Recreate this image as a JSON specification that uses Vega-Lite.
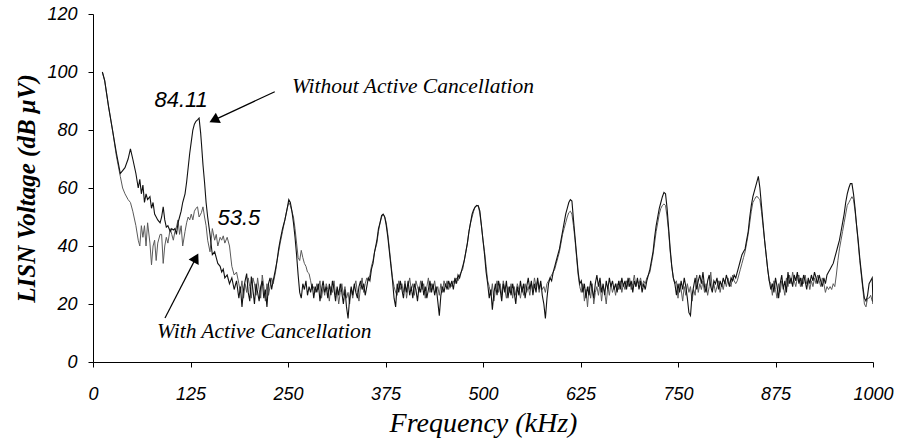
{
  "$schema": "https://vega.github.io/schema/vega-lite/v6.json",
  "width": 780,
  "height": 348,
  "autosize": {"type": "none"},
  "padding": {"left": 93, "top": 14, "right": 27, "bottom": 83},
  "background": "white",
  "config": {"view": {"stroke": null}, "axis": {"grid": false, "domainColor": "black", "tickColor": "black", "labelColor": "black", "titleColor": "black"}},
  "datasets": {
    "spec": [
      {"f":12,"w":100,"c":100},{"f":15,"w":97,"c":97},{"f":20,"w":88,"c":88},{"f":25,"w":80,"c":80},{"f":30,"w":72,"c":71},{"f":35,"w":65,"c":64},{"f":38,"w":66,"c":60},{"f":41,"w":67,"c":58},{"f":45,"w":70,"c":56},{"f":48,"w":73.5,"c":55},{"f":51,"w":70,"c":52},{"f":55,"w":65,"c":47},{"f":58,"w":60,"c":42},{"f":60,"w":63,"c":40},{"f":62,"w":58,"c":47},{"f":64,"w":61,"c":43},{"f":66,"w":55,"c":47},{"f":68,"w":58,"c":40},{"f":70,"w":56,"c":48},{"f":73,"w":57,"c":41},{"f":75,"w":53,"c":33.5},{"f":77,"w":55,"c":40},{"f":79,"w":51,"c":42},{"f":81,"w":50,"c":35},{"f":83,"w":49,"c":41},{"f":86,"w":48,"c":44},{"f":88,"w":50,"c":44},{"f":90,"w":53.5,"c":34},{"f":92,"w":49,"c":40},{"f":94,"w":46.5,"c":43},{"f":96,"w":47,"c":41},{"f":99,"w":45,"c":46},{"f":101,"w":46,"c":44},{"f":103,"w":45.5,"c":42},{"f":105,"w":46,"c":45},{"f":107,"w":44,"c":46.5},{"f":109,"w":48,"c":49},{"f":111,"w":50,"c":44},{"f":113,"w":52,"c":47},{"f":115,"w":55,"c":40},{"f":118,"w":58,"c":45},{"f":120,"w":62,"c":48},{"f":122,"w":67,"c":50},{"f":124,"w":72,"c":49},{"f":126,"w":76,"c":51},{"f":128,"w":80,"c":49},{"f":130,"w":82,"c":52},{"f":132,"w":83,"c":53},{"f":134,"w":83.5,"c":53.5},{"f":136,"w":84.1,"c":50},{"f":138,"w":79,"c":51},{"f":139,"w":75.5,"c":51.5},{"f":141,"w":68,"c":53.5},{"f":143,"w":62,"c":50},{"f":145,"w":55,"c":47},{"f":147,"w":50,"c":42},{"f":150,"w":44,"c":38},
      {"f":153,"w":37,"c":46},{"f":156,"w":38,"c":42},{"f":158,"w":36,"c":44},{"f":160,"w":34,"c":40},{"f":163,"w":33,"c":43},{"f":165,"w":31,"c":42},{"f":167,"w":32,"c":43.5},{"f":169,"w":29,"c":41},{"f":172,"w":30,"c":43},{"f":175,"w":27,"c":40},{"f":178,"w":29,"c":33},{"f":181,"w":25,"c":30},{"f":184,"w":28,"c":31},{"f":187,"w":22,"c":27},{"f":189,"w":26,"c":24},{"f":191,"w":19,"c":28},{"f":193,"w":25,"c":22},{"f":195,"w":28,"c":27},{"f":197,"w":30.5,"c":24},{"f":199,"w":24,"c":29},{"f":201,"w":21,"c":26},{"f":203,"w":29.5,"c":22},{"f":205,"w":25,"c":29},{"f":207,"w":20,"c":27},{"f":209,"w":27,"c":23},{"f":211,"w":24,"c":29},{"f":213,"w":21,"c":25},{"f":215,"w":26,"c":22},{"f":217,"w":28,"c":30},{"f":219,"w":22,"c":26},{"f":221,"w":25,"c":21},{"f":223,"w":19,"c":27},{"f":225,"w":27,"c":23},{"f":227,"w":29,"c":26},{"f":229,"w":25,"c":29},{"f":231,"w":28,"c":27},{"f":234,"w":32,"c":31},{"f":236,"w":35,"c":35},{"f":238,"w":39,"c":38},{"f":240,"w":42,"c":41},{"f":243,"w":46,"c":45},{"f":246,"w":49,"c":49},{"f":249,"w":53,"c":53},{"f":251,"w":56,"c":55},{"f":253,"w":55,"c":54},{"f":255,"w":52,"c":52},{"f":257,"w":48,"c":50},{"f":259,"w":43,"c":46},{"f":261,"w":37,"c":41},{"f":263,"w":30,"c":36},{"f":265,"w":24,"c":35},{"f":267,"w":22,"c":38.5},{"f":269,"w":27,"c":36},{"f":271,"w":25,"c":34},{"f":273,"w":28,"c":33},{"f":275,"w":23,"c":31},{"f":277,"w":26,"c":30.5},{"f":279,"w":24,"c":28},{"f":281,"w":27,"c":25},
      {"f":283,"w":22,"c":26},{"f":285,"w":26,"c":24},{"f":287,"w":24,"c":27},{"f":289,"w":27,"c":25},{"f":291,"w":21,"c":28},{"f":293,"w":25,"c":22},{"f":295,"w":28,"c":26},{"f":297,"w":24,"c":23},{"f":299,"w":26,"c":27},{"f":301,"w":22,"c":25},{"f":303,"w":27,"c":21},{"f":305,"w":23,"c":26},{"f":307,"w":28,"c":24},{"f":309,"w":25,"c":28},{"f":311,"w":21,"c":23},{"f":313,"w":26,"c":25},{"f":315,"w":23,"c":20},{"f":317,"w":27,"c":24},{"f":319,"w":24,"c":27},{"f":321,"w":20,"c":23},{"f":323,"w":25,"c":26},{"f":325,"w":19,"c":22},{"f":327,"w":15,"c":24},{"f":329,"w":22,"c":20},{"f":331,"w":26,"c":25},{"f":333,"w":23,"c":22},{"f":335,"w":27,"c":26},{"f":337,"w":24,"c":28},{"f":339,"w":22,"c":24},{"f":341,"w":26,"c":21},{"f":343,"w":28,"c":26},{"f":345,"w":25,"c":29},{"f":347,"w":27,"c":24},{"f":349,"w":23,"c":27},{"f":351,"w":26,"c":29},{"f":353,"w":29,"c":28},{"f":355,"w":28,"c":30},{"f":357,"w":32,"c":33},{"f":359,"w":34,"c":35},{"f":361,"w":38,"c":38},{"f":364,"w":42,"c":41},{"f":366,"w":46,"c":45},{"f":368,"w":48,"c":48},{"f":370,"w":50.5,"c":50},{"f":372,"w":51,"c":51},{"f":374,"w":50,"c":50},{"f":376,"w":47,"c":48},{"f":378,"w":43,"c":44},{"f":380,"w":38,"c":39},{"f":382,"w":33,"c":34},{"f":384,"w":28,"c":29},{"f":386,"w":22,"c":26},{"f":388,"w":19,"c":24},{"f":390,"w":27,"c":23},
      {"f":392,"w":24,"c":28},{"f":394,"w":28,"c":25},{"f":396,"w":25,"c":27},{"f":398,"w":22,"c":24},{"f":400,"w":27,"c":28},{"f":402,"w":24,"c":22},{"f":404,"w":28,"c":26},{"f":406,"w":23,"c":29},{"f":408,"w":26,"c":25},{"f":410,"w":22,"c":27},{"f":412,"w":27,"c":23},{"f":414,"w":25,"c":28},{"f":416,"w":21,"c":26},{"f":418,"w":26,"c":24},{"f":420,"w":24,"c":28},{"f":422,"w":28,"c":25},{"f":424,"w":23,"c":27},{"f":426,"w":26,"c":22},{"f":428,"w":22,"c":26},{"f":430,"w":25,"c":29},{"f":432,"w":28,"c":24},{"f":434,"w":24,"c":27},{"f":436,"w":27,"c":25},{"f":438,"w":23,"c":28},{"f":440,"w":26,"c":24},{"f":442,"w":21,"c":26},{"f":444,"w":16,"c":23},{"f":446,"w":23,"c":27},{"f":448,"w":26,"c":24},{"f":450,"w":24,"c":28},{"f":452,"w":27,"c":26},{"f":454,"w":25,"c":28},{"f":456,"w":28,"c":25},{"f":458,"w":26,"c":27},{"f":460,"w":28,"c":26},{"f":462,"w":25,"c":28},{"f":464,"w":29,"c":27},{"f":466,"w":27,"c":29},{"f":468,"w":30,"c":28},{"f":470,"w":29,"c":30},{"f":472,"w":31,"c":31},{"f":474,"w":33,"c":32},{"f":476,"w":35,"c":35},{"f":478,"w":38,"c":38},{"f":480,"w":41,"c":41},{"f":482,"w":45,"c":45},{"f":484,"w":48,"c":48},{"f":486,"w":51,"c":50},{"f":488,"w":52.5,"c":52},{"f":490,"w":53.5,"c":53.5},{"f":492,"w":54,"c":53.8},{"f":494,"w":53.8,"c":54},{"f":496,"w":52,"c":51},{"f":498,"w":47,"c":47},{"f":500,"w":42,"c":42},{"f":502,"w":37,"c":38},{"f":504,"w":31,"c":33},{"f":506,"w":27,"c":28},{"f":508,"w":22,"c":26},{"f":510,"w":25,"c":23},{"f":512,"w":18,"c":27},{"f":514,"w":24,"c":21},
      {"f":516,"w":27,"c":25},{"f":518,"w":23,"c":28},{"f":520,"w":28,"c":24},{"f":522,"w":25,"c":27},{"f":524,"w":21,"c":23},{"f":526,"w":27,"c":28},{"f":528,"w":24,"c":25},{"f":530,"w":28,"c":22},{"f":532,"w":22,"c":26},{"f":534,"w":26,"c":24},{"f":536,"w":23,"c":27},{"f":538,"w":27,"c":22},{"f":540,"w":24,"c":26},{"f":542,"w":20,"c":23},{"f":544,"w":26,"c":27},{"f":546,"w":23,"c":25},{"f":548,"w":28,"c":22},{"f":550,"w":24,"c":26},{"f":552,"w":27,"c":23},{"f":554,"w":22,"c":27},{"f":556,"w":26,"c":24},{"f":558,"w":29,"c":26},{"f":560,"w":25,"c":23},{"f":562,"w":28,"c":27},{"f":564,"w":23,"c":25},{"f":566,"w":27,"c":29},{"f":568,"w":24,"c":26},{"f":570,"w":29,"c":28},{"f":572,"w":25,"c":24},{"f":574,"w":28,"c":27},{"f":576,"w":23,"c":25},{"f":578,"w":20,"c":26},{"f":580,"w":15,"c":24},{"f":582,"w":22,"c":27},{"f":584,"w":27,"c":28},{"f":586,"w":29,"c":29},{"f":588,"w":28,"c":30},{"f":590,"w":31,"c":31},{"f":592,"w":33,"c":32},{"f":594,"w":35,"c":34},{"f":596,"w":37,"c":36},{"f":598,"w":39,"c":38},{"f":600,"w":42,"c":41},{"f":602,"w":45,"c":44},{"f":604,"w":48,"c":46},{"f":606,"w":51,"c":48},{"f":608,"w":53,"c":50},{"f":610,"w":55,"c":51.5},{"f":612,"w":56,"c":52},{"f":614,"w":55.5,"c":51},{"f":616,"w":49,"c":47},{"f":618,"w":43,"c":42},{"f":620,"w":37,"c":36},{"f":622,"w":31,"c":30},{"f":624,"w":27,"c":26},{"f":626,"w":28,"c":24},
      {"f":628,"w":24,"c":27},{"f":630,"w":27,"c":21},{"f":632,"w":22,"c":25},{"f":634,"w":26,"c":19},{"f":636,"w":23,"c":26},{"f":638,"w":28,"c":22},{"f":640,"w":25,"c":27},{"f":642,"w":22,"c":20},{"f":644,"w":27,"c":24},{"f":646,"w":30,"c":26},{"f":648,"w":26,"c":23},{"f":650,"w":29,"c":27},{"f":652,"w":24,"c":21},{"f":654,"w":27,"c":26},{"f":656,"w":23,"c":24},{"f":658,"w":28,"c":20},{"f":660,"w":25,"c":26},{"f":662,"w":29,"c":23},{"f":664,"w":26,"c":27},{"f":666,"w":28,"c":24},{"f":668,"w":25,"c":26},{"f":670,"w":27,"c":23},{"f":672,"w":24,"c":27},{"f":674,"w":28,"c":25},{"f":676,"w":25,"c":28},{"f":678,"w":29,"c":24},{"f":680,"w":26,"c":27},{"f":682,"w":28,"c":25},{"f":684,"w":25,"c":28},{"f":686,"w":29,"c":26},{"f":688,"w":26,"c":29},{"f":690,"w":28,"c":25},{"f":692,"w":24,"c":27},{"f":694,"w":28,"c":30},{"f":696,"w":26,"c":26},{"f":698,"w":29,"c":28},{"f":700,"w":25,"c":27},{"f":702,"w":28,"c":29},{"f":704,"w":24,"c":26},{"f":706,"w":27,"c":28},{"f":708,"w":25,"c":27},{"f":710,"w":28,"c":29},{"f":712,"w":30,"c":30},{"f":714,"w":32,"c":31},{"f":716,"w":35,"c":34},{"f":718,"w":38,"c":37},{"f":720,"w":43,"c":41},{"f":722,"w":47,"c":45},{"f":724,"w":50,"c":48},{"f":726,"w":53,"c":51},{"f":728,"w":55,"c":53},{"f":730,"w":57,"c":54},{"f":732,"w":58.5,"c":54.5},{"f":734,"w":58,"c":54},{"f":736,"w":53,"c":50},{"f":738,"w":46,"c":45},{"f":740,"w":39,"c":38},{"f":742,"w":33,"c":33},{"f":744,"w":29,"c":29},{"f":746,"w":27,"c":27},{"f":748,"w":23,"c":28},
      {"f":750,"w":27,"c":22},{"f":752,"w":24,"c":27},{"f":754,"w":28,"c":25},{"f":756,"w":25,"c":21},{"f":758,"w":29,"c":26},{"f":760,"w":26,"c":23},{"f":762,"w":22,"c":27},{"f":764,"w":17,"c":24},{"f":766,"w":16,"c":26},{"f":768,"w":23,"c":21},{"f":770,"w":26,"c":25},{"f":772,"w":29,"c":23},{"f":774,"w":25,"c":30},{"f":776,"w":28,"c":24},{"f":778,"w":30,"c":27},{"f":780,"w":27,"c":25},{"f":782,"w":31,"c":28},{"f":784,"w":26,"c":24},{"f":786,"w":24,"c":27},{"f":788,"w":28,"c":23},{"f":790,"w":30,"c":26},{"f":792,"w":26,"c":31},{"f":794,"w":24,"c":25},{"f":796,"w":28,"c":27},{"f":798,"w":27,"c":24},{"f":800,"w":29,"c":26},{"f":802,"w":25,"c":28},{"f":804,"w":28,"c":24},{"f":806,"w":26,"c":27},{"f":808,"w":29,"c":25},{"f":810,"w":27,"c":28},{"f":812,"w":30,"c":26},{"f":814,"w":28,"c":29},{"f":816,"w":26,"c":27},{"f":818,"w":29,"c":26},{"f":820,"w":28,"c":30},{"f":822,"w":30,"c":28},{"f":824,"w":29,"c":27},{"f":826,"w":31,"c":28},{"f":828,"w":33,"c":30},{"f":830,"w":35,"c":32},{"f":832,"w":37,"c":34},{"f":834,"w":38,"c":36},{"f":836,"w":39,"c":38},{"f":838,"w":42,"c":41},{"f":840,"w":45,"c":44},{"f":842,"w":50,"c":48},{"f":844,"w":54,"c":52},{"f":846,"w":57,"c":55},{"f":848,"w":59,"c":56},{"f":850,"w":61,"c":57},{"f":852,"w":63,"c":57},{"f":853,"w":64,"c":56.5},{"f":855,"w":60,"c":56},{"f":857,"w":54,"c":52},{"f":859,"w":48,"c":47},{"f":861,"w":42,"c":42},{"f":863,"w":37,"c":37},{"f":865,"w":32,"c":32},{"f":867,"w":28,"c":28},{"f":869,"w":25,"c":27},
      {"f":871,"w":27,"c":23},{"f":873,"w":24,"c":28},{"f":875,"w":29,"c":25},{"f":877,"w":26,"c":22},{"f":879,"w":22,"c":27},{"f":881,"w":27,"c":24},{"f":883,"w":30,"c":28},{"f":885,"w":25,"c":26},{"f":887,"w":28,"c":23},{"f":889,"w":24,"c":29},{"f":891,"w":31,"c":26},{"f":893,"w":27,"c":30},{"f":895,"w":29,"c":27},{"f":897,"w":26,"c":31},{"f":899,"w":30,"c":28},{"f":901,"w":28,"c":26},{"f":903,"w":31,"c":29},{"f":905,"w":27,"c":30},{"f":907,"w":29,"c":26},{"f":909,"w":26,"c":29},{"f":911,"w":30,"c":27},{"f":913,"w":28,"c":30},{"f":915,"w":25,"c":27},{"f":917,"w":29,"c":28},{"f":919,"w":27,"c":25},{"f":921,"w":30,"c":28},{"f":923,"w":28,"c":26},{"f":925,"w":31,"c":29},{"f":927,"w":29,"c":27},{"f":929,"w":27,"c":30},{"f":931,"w":30,"c":28},{"f":933,"w":28,"c":26},{"f":935,"w":26,"c":29},{"f":937,"w":29,"c":27},{"f":939,"w":27,"c":24},{"f":941,"w":30,"c":26},{"f":943,"w":31,"c":25},{"f":945,"w":32,"c":26},{"f":947,"w":33,"c":25},{"f":949,"w":34,"c":27},{"f":951,"w":36,"c":26},{"f":953,"w":38,"c":30},{"f":955,"w":40,"c":35},{"f":957,"w":42,"c":39},{"f":959,"w":45,"c":42},{"f":961,"w":48,"c":45},{"f":963,"w":51,"c":48},{"f":965,"w":55,"c":51},{"f":967,"w":58,"c":54},{"f":969,"w":60,"c":55},{"f":971,"w":61.5,"c":56},{"f":973,"w":61.5,"c":57},{"f":975,"w":58,"c":56},{"f":977,"w":53,"c":52},{"f":979,"w":47,"c":47},{"f":981,"w":42,"c":41},{"f":983,"w":36,"c":35},{"f":985,"w":31,"c":30},{"f":987,"w":26,"c":25},{"f":989,"w":22,"c":20},{"f":991,"w":21,"c":19},{"f":993,"w":23,"c":22},{"f":995,"w":27,"c":22},{"f":997,"w":28,"c":23},{"f":999,"w":29,"c":21},{"f":1000,"w":20,"c":21}
    ],
    "numlabels": [
      {"f":113,"v":87.9,"t":"84.11"},
      {"f":187,"v":47.2,"t":"53.5"}
    ],
    "notes": [
      {"f":255,"v":92.8,"t":"Without Active Cancellation"},
      {"f":82,"v":8.3,"t":"With Active Cancellation"}
    ],
    "arrows": [
      {"f":233,"v":93.2,"f2":155,"v2":83.4,"a":244},
      {"f":92.3,"v":15.2,"f2":132,"v2":35.9,"a":28}
    ]
  },
  "layer": [
    {
      "data": {"name": "spec"},
      "mark": {"type": "line", "color": "#5a5a5a", "strokeWidth": 1, "clip": true},
      "encoding": {
        "x": {"field": "f", "type": "quantitative", "scale": {"domain": [0, 1000], "nice": false},
          "axis": {"values": [0,125,250,375,500,625,750,875,1000], "format": "d", "tickSize": 5, "labelFont": "Liberation Sans", "labelFontStyle": "italic", "labelFontSize": 18, "labelPadding": 18, "labelFlush": false,
            "title": "Frequency (kHz)", "titleFont": "Liberation Serif", "titleFontStyle": "italic", "titleFontWeight": "normal", "titleFontSize": 28, "titlePadding": 6}},
        "y": {"field": "c", "type": "quantitative", "scale": {"domain": [0, 120], "nice": false},
          "axis": {"values": [0,20,40,60,80,100,120], "tickSize": 5, "labelFont": "Liberation Sans", "labelFontStyle": "italic", "labelFontSize": 18, "labelPadding": 11,
            "title": "LISN Voltage (dB μV)", "titleFont": "Liberation Serif", "titleFontStyle": "italic", "titleFontWeight": "bold", "titleFontSize": 25, "titlePadding": 7}}
      }
    },
    {
      "data": {"name": "spec"},
      "mark": {"type": "line", "color": "#111111", "strokeWidth": 1.1, "clip": true},
      "encoding": {
        "x": {"field": "f", "type": "quantitative"},
        "y": {"field": "w", "type": "quantitative"}
      }
    },
    {
      "data": {"name": "arrows"},
      "mark": {"type": "rule", "color": "black", "strokeWidth": 1.2},
      "encoding": {
        "x": {"field": "f", "type": "quantitative"},
        "y": {"field": "v", "type": "quantitative"},
        "x2": {"field": "f2"},
        "y2": {"field": "v2"}
      }
    },
    {
      "data": {"name": "arrows"},
      "mark": {"type": "point", "shape": "triangle-up", "filled": true, "color": "black", "size": 130, "opacity": 1},
      "encoding": {
        "x": {"field": "f2", "type": "quantitative"},
        "y": {"field": "v2", "type": "quantitative"},
        "angle": {"field": "a", "type": "quantitative", "scale": null}
      }
    },
    {
      "data": {"name": "numlabels"},
      "mark": {"type": "text", "font": "Liberation Sans", "fontSize": 22, "fontStyle": "italic", "baseline": "alphabetic", "align": "center", "color": "black"},
      "encoding": {
        "x": {"field": "f", "type": "quantitative"},
        "y": {"field": "v", "type": "quantitative"},
        "text": {"field": "t"}
      }
    },
    {
      "data": {"name": "notes"},
      "mark": {"type": "text", "font": "Liberation Serif", "fontSize": 21.5, "fontStyle": "italic", "fontWeight": "normal", "baseline": "alphabetic", "align": "left", "color": "black"},
      "encoding": {
        "x": {"field": "f", "type": "quantitative"},
        "y": {"field": "v", "type": "quantitative"},
        "text": {"field": "t"}
      }
    }
  ]
}
